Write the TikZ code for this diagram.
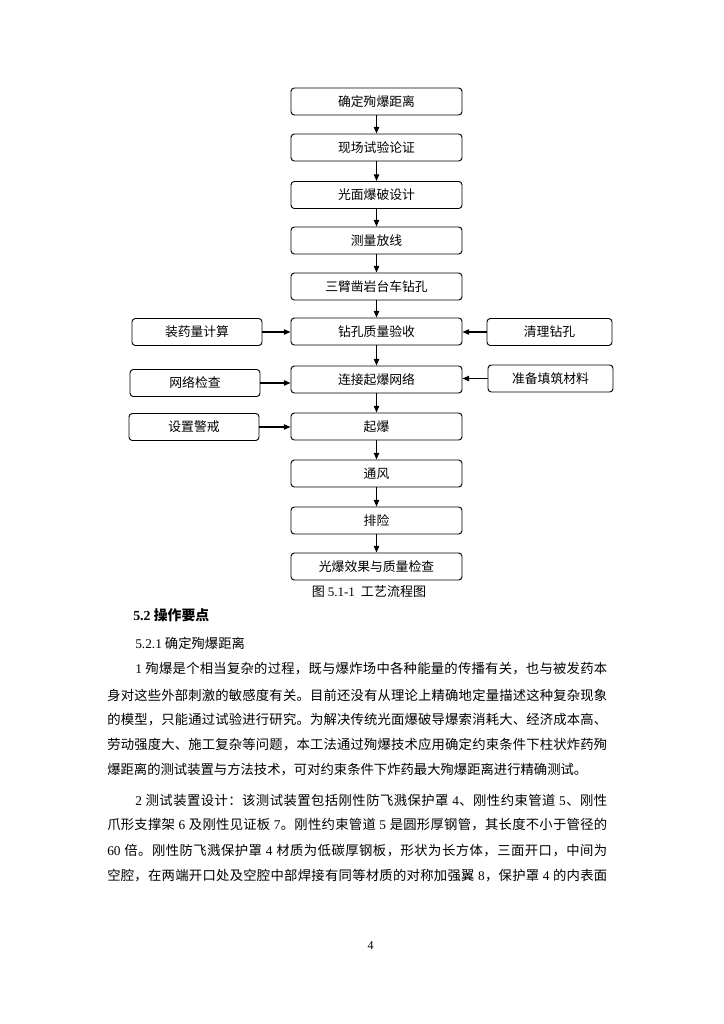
\documentclass[tikz,border=0pt]{standalone}
\usepackage{fontspec}
\setmainfont{Noto Sans CJK SC}
\newfontfamily\lat{Liberation Serif}
\usetikzlibrary{arrows.meta}
\ExplSyntaxOn
\bool_new:N \l_jl_first_bool
\NewDocumentCommand\jline{mm}
  {
    \hbox_to_wd:nn {#1}
      {
        \bool_set_true:N \l_jl_first_bool
        \tl_map_inline:nn {#2}
          {
            \bool_if:NTF \l_jl_first_bool
              { \bool_set_false:N \l_jl_first_bool }
              { \hskip 0pt plus 1fil }
            ##1
          }
      }
  }
\ExplSyntaxOff
\begin{document}
\begin{tikzpicture}[x=0.75pt,y=-0.75pt,
  box/.style={draw, line width=0.7pt, rounded corners=2.5pt, minimum height=20.25pt, inner sep=0pt, font=\fontsize{9.6}{11}\selectfont},
  mainbox/.style={box, minimum width=128.25pt},
  leftbox/.style={box, minimum width=97.5pt},
  rightbox/.style={box, minimum width=93.75pt},
  arr/.style={line width=0.95pt, -{Triangle[length=5pt,width=4pt]}},
  plain/.style={anchor=west, inner sep=0pt, font=\fontsize{10}{12}\selectfont}]
\useasboundingbox[fill=white] (0,0) rectangle (724,1024);
% main column
\node[mainbox] (b1) at (376.5,101.5) {确定殉爆距离};
\node[mainbox] (b2) at (376.5,147.5) {现场试验论证};
\node[mainbox] (b3) at (376.5,195) {光面爆破设计};
\node[mainbox] (b4) at (376.5,240.5) {测量放线};
\node[mainbox] (b5) at (376.5,286.5) {三臂凿岩台车钻孔};
\node[mainbox] (b6) at (376.5,331.5) {钻孔质量验收};
\node[mainbox] (b7) at (376.5,379.5) {连接起爆网络};
\node[mainbox] (b8) at (376.5,426.5) {起爆};
\node[mainbox] (b9) at (376.5,473.5) {通风};
\node[mainbox] (b10) at (376.5,520.5) {排险};
\node[mainbox] (b11) at (376.5,566.5) {光爆效果与质量检查};
% side boxes
\node[leftbox] (l1) at (197,332) {装药量计算};
\node[leftbox] (l2) at (195,383) {网络检查};
\node[leftbox] (l3) at (194,427) {设置警戒};
\node[rightbox] (r1) at (549.5,332) {清理钻孔};
\node[rightbox] (r2) at (550.5,378.5) {准备填筑材料};
% arrows
\draw[arr] (b1) -- (b2);
\draw[arr] (b2) -- (b3);
\draw[arr] (b3) -- (b4);
\draw[arr] (b4) -- (b5);
\draw[arr] (b5) -- (b6);
\draw[arr] (b6) -- (b7);
\draw[arr] (b7) -- (b8);
\draw[arr] (b8) -- (b9);
\draw[arr] (b9) -- (b10);
\draw[arr] (b10) -- (b11);
\draw[arr] (l1.east) -- (l1.east -| b6.west);
\draw[arr] (l2.east) -- (l2.east -| b7.west);
\draw[arr] (l3.east) -- (l3.east -| b8.west);
\draw[arr] (r1.west) -- (r1.west -| b6.east);
\draw[arr] (r2.west) -- (r2.west -| b7.east);
% caption
\node[font=\fontsize{9.8}{12}\selectfont, inner sep=0pt] (cap) at (369,592) {图 {\lat 5.1-1} \ 工艺流程图};
% text
\node[plain, font=\fontsize{10.4}{12}\selectfont\bfseries] (h1) at (133,615) {{\lat\bfseries 5.2} 操作要点};
\node[plain] (h2) at (135,643) {{\lat 5.2.1} 确定殉爆距离};
\node[plain] (t1) at (135,669) {\jline{354pt}{{{\lat 1\ }}殉爆是个相当复杂的过程，既与爆炸场中各种能量的传播有关，也与被发药本}};
\node[plain] (t2) at (107,695) {\jline{375pt}{身对这些外部刺激的敏感度有关。目前还没有从理论上精确地定量描述这种复杂现象}};
\node[plain] (t3) at (107,720) {\jline{375pt}{的模型，只能通过试验进行研究。为解决传统光面爆破导爆索消耗大、经济成本高、}};
\node[plain] (t4) at (107,745) {\jline{375pt}{劳动强度大、施工复杂等问题，本工法通过殉爆技术应用确定约束条件下柱状炸药殉}};
\node[plain] (t5) at (107,770) {爆距离的测试装置与方法技术，可对约束条件下炸药最大殉爆距离进行精确测试。};
\node[plain] (t6) at (135,800) {\jline{354pt}{{{\lat 2\ }}测试装置设计：该测试装置包括刚性防飞溅保护罩{{\lat\ 4}}、刚性约束管道{{\lat\ 5}}、刚性}};
\node[plain] (t7) at (107,825) {\jline{375pt}{爪形支撑架{{\lat\ 6\ }}及刚性见证板{{\lat\ 7}}。刚性约束管道{{\lat\ 5\ }}是圆形厚钢管，其长度不小于管径的}};
\node[plain] (t8) at (107,851) {\jline{375pt}{{{\lat 60\ }}倍。刚性防飞溅保护罩{{\lat\ 4\ }}材质为低碳厚钢板，形状为长方体，三面开口，中间为}};
\node[plain] (t9) at (107,876) {\jline{375pt}{空腔，在两端开口处及空腔中部焊接有同等材质的对称加强翼{{\lat\ 8}}，保护罩{{\lat\ 4\ }}的内表面}};
\node[font=\lat\fontsize{9}{10}\selectfont, inner sep=0pt] (pg) at (370.5,946) {4};
\end{tikzpicture}
\end{document}
